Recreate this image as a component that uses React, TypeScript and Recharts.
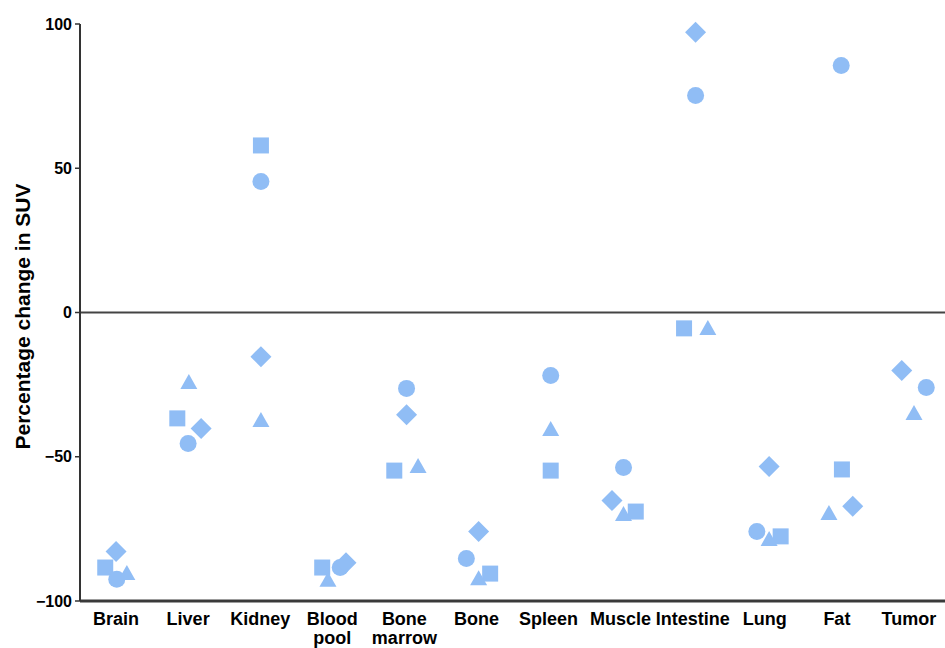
import React from 'react';
import { ScatterChart, Scatter, XAxis, YAxis, ReferenceLine } from 'recharts';

// Organs along the x axis ("\n" marks a line break in the tick label)
const CATEGORIES = [
    'Brain', 'Liver', 'Kidney', 'Blood\npool', 'Bone\nmarrow', 'Bone',
    'Spleen', 'Muscle', 'Intestine', 'Lung', 'Fat', 'Tumor',
];

// Percentage change in SUV, one value per organ (null = no point)
const SQUARE_VALUES = [-88.4, -36.7, 57.9, -88.4, -54.8, -90.5, -54.8, -69.0, -5.5, -77.6, -54.4, null];
const CIRCLE_VALUES = [-92.5, -45.4, 45.4, -88.4, -26.3, -85.3, -21.8, -53.7, 75.2, -75.9, 85.6, -26.0];
const TRIANGLE_VALUES = [-90.1, -23.9, -37.1, -92.5, -53.0, -91.9, -40.2, -69.7, -5.2, -78.3, -69.3, -34.7];
const DIAMOND_VALUES = [-82.8, -40.2, -15.3, -86.7, -35.4, -75.9, null, -65.2, 97.1, -53.4, -67.2, -20.1];

// Horizontal dodge of each point inside its organ slot, in category units
const SQUARE_JITTER = [-0.15, -0.15, 0.01, -0.14, -0.14, 0.19, 0.03, 0.21, -0.12, 0.22, 0.07, null];
const CIRCLE_JITTER = [0.01, 0, 0.01, 0.11, 0.03, -0.14, 0.03, 0.04, 0.04, -0.11, 0.06, 0.24];
const TRIANGLE_JITTER = [0.15, 0.01, 0.01, -0.06, 0.19, 0.03, 0.03, 0.04, 0.21, 0.06, -0.11, 0.07];
const DIAMOND_JITTER = [0, 0.18, 0.01, 0.19, 0.03, 0.03, null, -0.12, 0.04, 0.06, 0.22, -0.1];

const Y_TICKS = [-100, -50, 0, 50, 100];
const X_TICKS = CATEGORIES.map((_, i) => i);

const MARKER = '#90bdf5';
const FONT = '"Liberation Sans", Arial, Helvetica, sans-serif';

const toPoints = (values: (number | null)[], jitter: (number | null)[]) =>
    values
        .map((v, i) => (v === null ? null : { x: i + (jitter[i] ?? 0), y: v }))
        .filter(Boolean) as { x: number; y: number }[];

const squareShape = ({ cx, cy }: any) => (
    <rect x={cx - 8} y={cy - 8} width={16} height={16} fill={MARKER} />
);
const circleShape = ({ cx, cy }: any) => <circle cx={cx} cy={cy} r={8.5} fill={MARKER} />;
const triangleShape = ({ cx, cy }: any) => (
    <polygon
        points={`${cx},${cy - 7.5} ${cx + 8.5},${cy + 7.5} ${cx - 8.5},${cy + 7.5}`}
        fill={MARKER}
    />
);
const diamondShape = ({ cx, cy }: any) => (
    <polygon
        points={`${cx},${cy - 10.5} ${cx + 10.5},${cy} ${cx},${cy + 10.5} ${cx - 10.5},${cy}`}
        fill={MARKER}
    />
);

const CategoryTick = ({ x, y, payload }: any) => {
    const lines = (CATEGORIES[payload.value] || '').split('\n');
    return (
        <text x={x} y={y} textAnchor="middle" fontSize={18} fontWeight={700} fill="#000" fontFamily={FONT}>
            {lines.map((line, i) => (
                <tspan key={i} x={x} dy={i === 0 ? 24 : 19}>
                    {line}
                </tspan>
            ))}
        </text>
    );
};

const formatY = (v: number) => (v < 0 ? `\u2212${Math.abs(v)}` : `${v}`);

const YTitle = ({ viewBox }: any) => {
    const cx = viewBox.x + 22;
    const cy = viewBox.y + viewBox.height / 2 + 4;
    return (
        <text
            x={cx}
            y={cy}
            transform={`rotate(-90, ${cx}, ${cy})`}
            textAnchor="middle"
            dominantBaseline="central"
            fontSize={21}
            fontWeight={700}
            fill="#000"
            fontFamily={FONT}
        >
            Percentage change in SUV
        </text>
    );
};

const App: React.FC = () => {
    return (
        <div style={{ position: 'absolute', left: 0, top: 0, width: 945, height: 648, background: '#fff', fontFamily: FONT }}>
            <ScatterChart width={945} height={648} margin={{ top: 24, right: 0, bottom: 0, left: 0 }}>
                <XAxis
                    type="number"
                    dataKey="x"
                    domain={[-0.5, 11.5]}
                    ticks={X_TICKS}
                    interval={0}
                    height={47}
                    tickLine={false}
                    tickSize={0}
                    tickMargin={0}
                    axisLine={{ stroke: '#3a3a3a', strokeWidth: 3 }}
                    tick={<CategoryTick />}
                />
                <YAxis
                    type="number"
                    dataKey="y"
                    domain={[-100, 100]}
                    ticks={Y_TICKS}
                    interval={0}
                    width={80}
                    tickSize={5}
                    tickMargin={3}
                    tickFormatter={formatY}
                    axisLine={{ stroke: '#333', strokeWidth: 2 }}
                    tickLine={{ stroke: '#333', strokeWidth: 1.5 }}
                    tick={{ fill: '#000', fontSize: 16, fontWeight: 700, fontFamily: FONT }}
                    label={<YTitle />}
                />
                <ReferenceLine y={0} stroke="#444" strokeWidth={2} />
                <Scatter data={toPoints(SQUARE_VALUES, SQUARE_JITTER)} shape={squareShape} isAnimationActive={false} />
                <Scatter data={toPoints(CIRCLE_VALUES, CIRCLE_JITTER)} shape={circleShape} isAnimationActive={false} />
                <Scatter data={toPoints(TRIANGLE_VALUES, TRIANGLE_JITTER)} shape={triangleShape} isAnimationActive={false} />
                <Scatter data={toPoints(DIAMOND_VALUES, DIAMOND_JITTER)} shape={diamondShape} isAnimationActive={false} />
            </ScatterChart>
        </div>
    );
};

export default App;
